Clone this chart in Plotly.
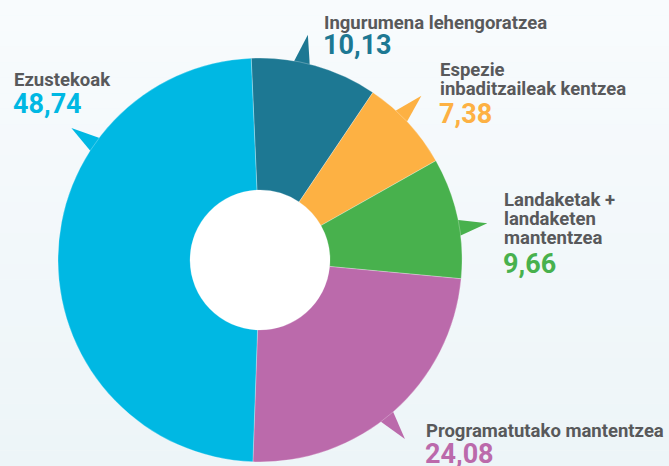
import math
import plotly.graph_objects as go

# ---------------- data ----------------
categories = [
    "Ingurumena lehengoratzea",
    "Espezie inbaditzaileak kentzea",
    "Landaketak + landaketen mantentzea",
    "Programatutako mantentzea",
    "Ezustekoak",
]
values = [10.13, 7.38, 9.66, 24.08, 48.74]
value_labels = ["10,13", "7,38", "9,66", "24,08", "48,74"]
label_lines = [
    ["Ingurumena lehengoratzea"],
    ["Espezie", "inbaditzaileak kentzea"],
    ["Landaketak +", "landaketen", "mantentzea"],
    ["Programatutako mantentzea"],
    ["Ezustekoak"],
]

# ---------------- style ----------------
colors = ["#1d7893", "#fdb143", "#48b14d", "#bb6aab", "#00b8e3"]
TITLE_COLOR = "#58595b"
FONT = "Roboto"
W, H = 669, 466
CX, CY, R = 260, 260, 202
HOLE_R = 70
ROTATION = -2.5
TITLE_FS = 18.5
NUM_FS = 27
# label layout: left x, title baselines, number baseline (pixels)
label_layout = [
    (323, [29], 54),
    (439, [76, 95], 123),
    (503, [206, 225, 244], 273),
    (425, [437], 463),
    (13, [86], 113),
]
pointer_angles = [12, 44.5, 80.8, 141, 305]  # degrees clockwise from 12 o'clock
POINTER_HALF = 2.8
POINTER_TIP = 1.14


def fx(px):
    return px / W


def fy(py):
    return 1 - py / H


fig = go.Figure()
fig.add_trace(go.Pie(
    labels=categories,
    values=values,
    sort=False,
    direction="clockwise",
    rotation=ROTATION,
    hole=HOLE_R / R,
    marker=dict(colors=colors, line=dict(color="rgba(255,255,255,0.45)", width=0.6)),
    textinfo="none",
    hoverinfo="label+value",
    showlegend=False,
    domain=dict(x=[fx(CX - R), fx(CX + R)], y=[fy(CY + R), fy(CY - R)]),
))

shapes = []
# background gradient bands
top_c = (248, 251, 253)
bot_c = (237, 245, 248)
N = 30
for i in range(N):
    t = i / (N - 1)
    c = tuple(round(top_c[k] + (bot_c[k] - top_c[k]) * t) for k in range(3))
    shapes.append(dict(type="rect", xref="paper", yref="paper",
                       x0=0, x1=1, y0=1 - (i + 1) / N, y1=1 - i / N,
                       fillcolor="rgb(%d,%d,%d)" % c, line=dict(width=0), layer="below"))
# white hole
shapes.append(dict(type="circle", xref="paper", yref="paper",
                   x0=fx(CX - HOLE_R), x1=fx(CX + HOLE_R), y0=fy(CY + HOLE_R), y1=fy(CY - HOLE_R),
                   fillcolor="white", line=dict(width=0), layer="below"))


def pt(angle_deg, r):
    a = math.radians(angle_deg)
    return fx(CX + r * math.sin(a)), fy(CY - r * math.cos(a))


for ang, col in zip(pointer_angles, colors):
    p1 = pt(ang - POINTER_HALF, R * 0.97)
    p2 = pt(ang, R * POINTER_TIP)
    p3 = pt(ang + POINTER_HALF, R * 0.97)
    path = "M %f %f L %f %f L %f %f Z" % (p1[0], p1[1], p2[0], p2[1], p3[0], p3[1])
    shapes.append(dict(type="path", xref="paper", yref="paper", path=path,
                       fillcolor=col, line=dict(width=0), layer="below"))

annotations = []
for lines, num, col, (lx, baselines, nbase) in zip(label_lines, value_labels, colors, label_layout):
    for line, b in zip(lines, baselines):
        annotations.append(dict(
            xref="paper", yref="paper", x=fx(lx), y=fy(b - 0.34 * TITLE_FS),
            xanchor="left", yanchor="middle", showarrow=False,
            text="<b>%s</b>" % line,
            font=dict(family=FONT, size=TITLE_FS, color=TITLE_COLOR),
            borderpad=0,
        ))
    annotations.append(dict(
        xref="paper", yref="paper", x=fx(lx - 1), y=fy(nbase - 0.34 * NUM_FS),
        xanchor="left", yanchor="middle", showarrow=False,
        text="<b>%s</b>" % num,
        font=dict(family=FONT, size=NUM_FS, color=col),
        borderpad=0,
    ))

fig.update_layout(
    width=W, height=H,
    margin=dict(l=0, r=0, t=0, b=0),
    paper_bgcolor="#f3f8fa",
    plot_bgcolor="rgba(0,0,0,0)",
    shapes=shapes,
    annotations=annotations,
    showlegend=False,
)

fig.write_html(
    "out.html",
    config={"displayModeBar": False},
    post_script="document.body.style.margin='0';document.body.style.overflow='hidden';",
)
